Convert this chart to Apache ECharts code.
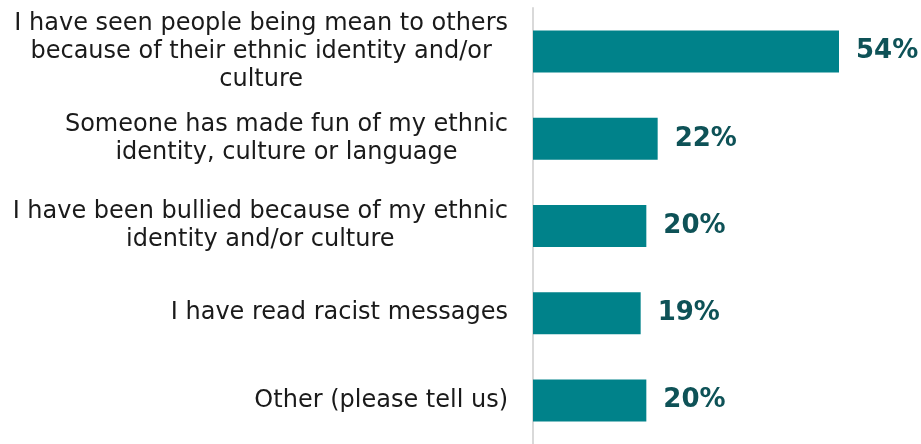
<!DOCTYPE html>
<html>
<head>
<meta charset="utf-8">
<script src="https://cdn.jsdelivr.net/npm/echarts@6/dist/echarts.min.js"></script>
<style>
  html, body { margin: 0; padding: 0; background: #fff; }
  #chart { width: 921px; height: 444px; }
</style>
</head>
<body>
<div id="chart"></div>
<script>
// answers shown top to bottom
const categories = [
  'I have seen people being mean to others\nbecause of their ethnic identity and/or\nculture',
  'Someone has made fun of my ethnic\nidentity, culture or language',
  'I have been bullied because of my ethnic\nidentity and/or culture',
  'I have read racist messages',
  'Other (please tell us)'
]
const percents = [54, 22, 20, 19, 20]

const font = '"DejaVu Sans", Verdana, sans-serif'

const chart = echarts.init(document.getElementById('chart'))
chart.setOption({
  animation: false,
  grid: { left: 533, top: 8, height: 440, right: 48 },
  xAxis: {
    type: 'value',
    min: 0,
    max: 60,
    show: false
  },
  yAxis: {
    type: 'category',
    inverse: true,
    data: categories,
    axisLine: { show: true, lineStyle: { color: '#d9d9d9', width: 2 } },
    axisTick: { show: false },
    axisLabel: {
      margin: 25,
      formatter: v => '{c|' + v + '}',
      rich: {
        c: {
          align: 'center',
          fontFamily: font,
          fontSize: 24,
          lineHeight: 28,
          color: '#1a1a1a'
        }
      }
    }
  },
  series: [
    {
      type: 'bar',
      data: percents,
      barWidth: 42,
      itemStyle: { color: '#00828a' },
      label: {
        show: true,
        position: 'right',
        distance: 17,
        formatter: '{c}%',
        fontFamily: font,
        fontSize: 26,
        fontWeight: 'bold',
        color: '#0e5257'
      }
    }
  ]
})
</script>
</body>
</html>
